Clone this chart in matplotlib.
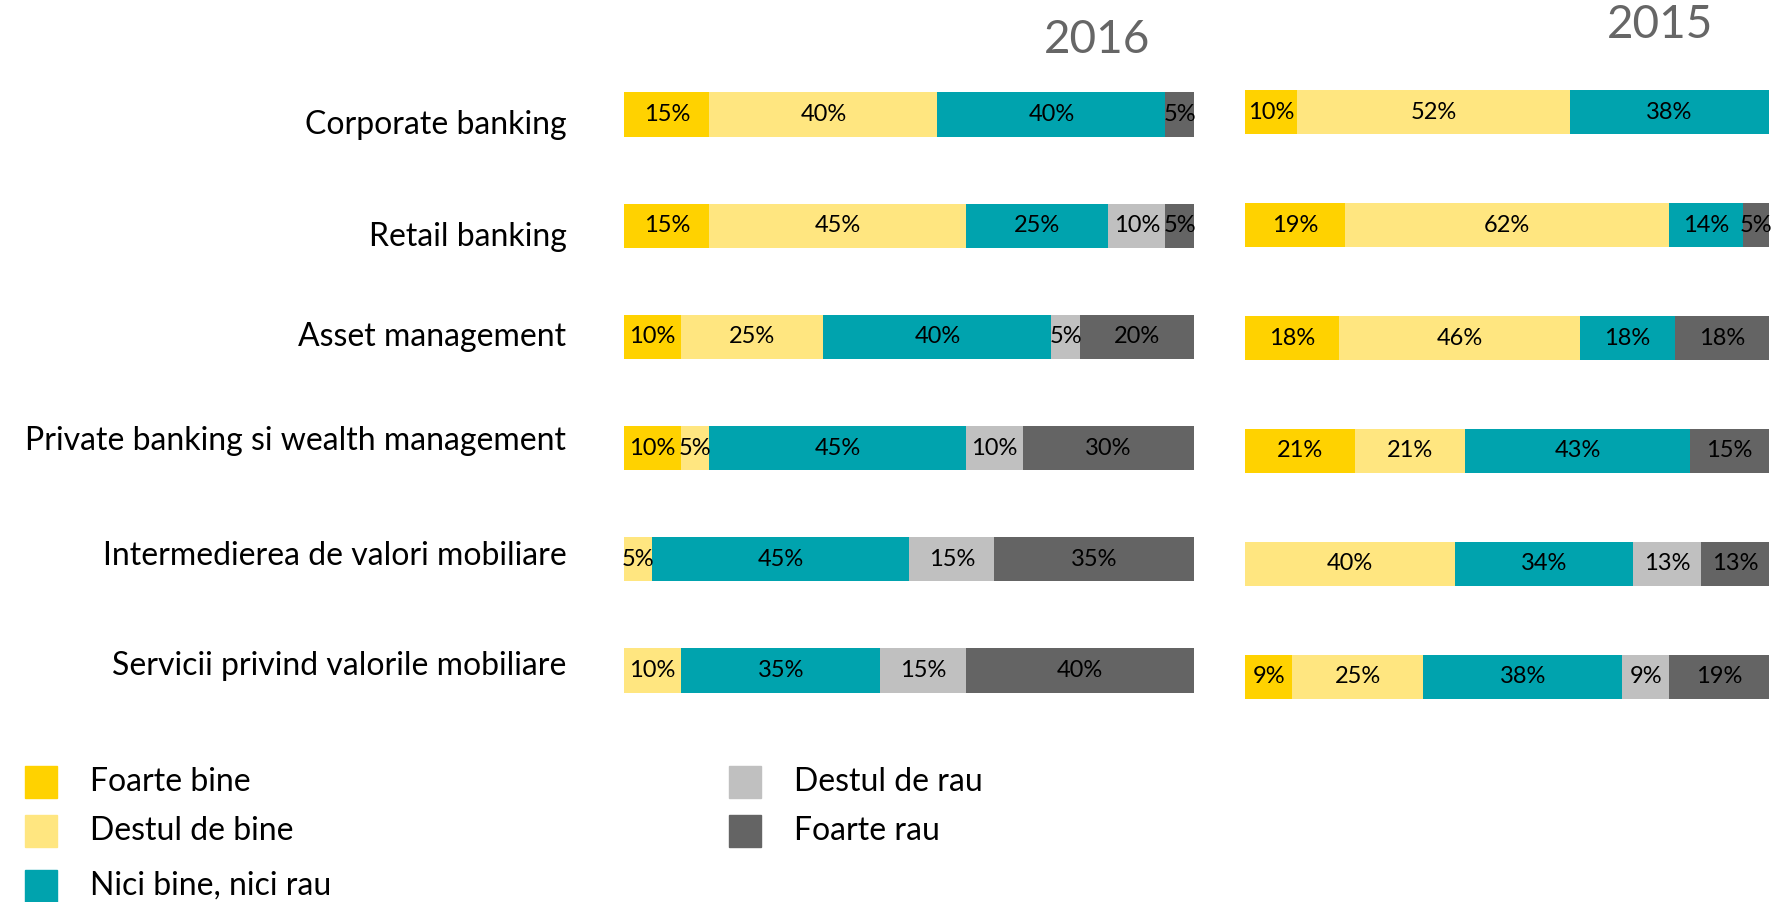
import matplotlib
matplotlib.use("Agg")
import matplotlib.pyplot as plt
from matplotlib.patches import Rectangle

# data
categories = ["Corporate banking", "Retail banking", "Asset management",
              "Private banking si wealth management",
              "Intermedierea de valori mobiliare",
              "Servicii privind valorile mobiliare"]
series = ["Foarte bine", "Destul de bine", "Nici bine, nici rau",
          "Destul de rau", "Foarte rau"]

foarte_bine_2016 = [15, 15, 10, 10, 0, 0]
destul_bine_2016 = [40, 45, 25, 5, 5, 10]
nici_2016 = [40, 25, 40, 45, 45, 35]
destul_rau_2016 = [0, 10, 5, 10, 15, 15]
foarte_rau_2016 = [5, 5, 20, 30, 35, 40]

foarte_bine_2015 = [10, 19, 18, 21, 0, 9]
destul_bine_2015 = [52, 62, 46, 21, 40, 25]
nici_2015 = [38, 14, 18, 43, 34, 38]
destul_rau_2015 = [0, 0, 0, 0, 13, 9]
foarte_rau_2015 = [0, 5, 18, 15, 13, 19]

colors = ["#FFD200", "#FFE680", "#00A3AE", "#C0C0C0", "#646464"]
label_font = "Lato"
pct_font = "Lato"

data_2016 = [foarte_bine_2016, destul_bine_2016, nici_2016, destul_rau_2016, foarte_rau_2016]
data_2015 = [foarte_bine_2015, destul_bine_2015, nici_2015, destul_rau_2015, foarte_rau_2015]

W, H = 1783, 902
fig = plt.figure(figsize=(W / 100, H / 100), dpi=100)


def panel(rect, data, bar_h):
    ax = fig.add_axes(rect)
    y = list(range(len(categories)))
    left = [0] * len(categories)
    for vals, col in zip(data, colors):
        ax.barh(y, vals, left=left, height=bar_h, color=col, edgecolor="none")
        for i, v in enumerate(vals):
            if v > 0:
                ax.text(left[i] + v / 2, i, f"{v}%", ha="center", va="center",
                        fontsize=17, family=pct_font, color="black")
        left = [a + b for a, b in zip(left, vals)]
    ax.set_xlim(0, 100)
    ax.set_ylim(len(categories) - 0.5, -0.5)
    ax.axis("off")
    return ax


# left panel (2016): bars 624..1194 px, rows at 115..671 px
ax16 = panel([624 / W, 1 - 726 / H, 570 / W, 667 / H], data_2016, 0.40)
# right panel (2015): bars 1245..1769 px, rows at 113..677 px
ax15 = panel([1245 / W, 1 - 733 / H, 524 / W, 677 / H], data_2015, 0.39)

# category labels, slightly off the bar centres as in the original
label_shift = [0.09, 0.10, 0.0, -0.06, -0.03, -0.04]
for i, cat in enumerate(categories):
    ax16.text(-10.1, i + label_shift[i], cat, ha="right", va="center",
              fontsize=23, family=label_font, color="black")

fig.text(1097 / W, 1 - 40 / H, "2016", ha="center", va="center",
         fontsize=33, family=label_font, color="#666666")
fig.text(1660 / W, 1 - 25 / H, "2015", ha="center", va="center",
         fontsize=33, family=label_font, color="#666666")

# legend
legend_pos = [(25, 782), (25, 831), (25, 886), (729, 782), (729, 831)]
for (x, y), name, col in zip(legend_pos, series, colors):
    fig.patches.append(Rectangle((x / W, 1 - (y + 16) / H), 32 / W, 32 / H,
                                 transform=fig.transFigure, color=col))
    fig.text((x + 65) / W, 1 - y / H, name, ha="left", va="center",
             fontsize=23, family=label_font, color="black")

fig.savefig("out.png", dpi=100)
